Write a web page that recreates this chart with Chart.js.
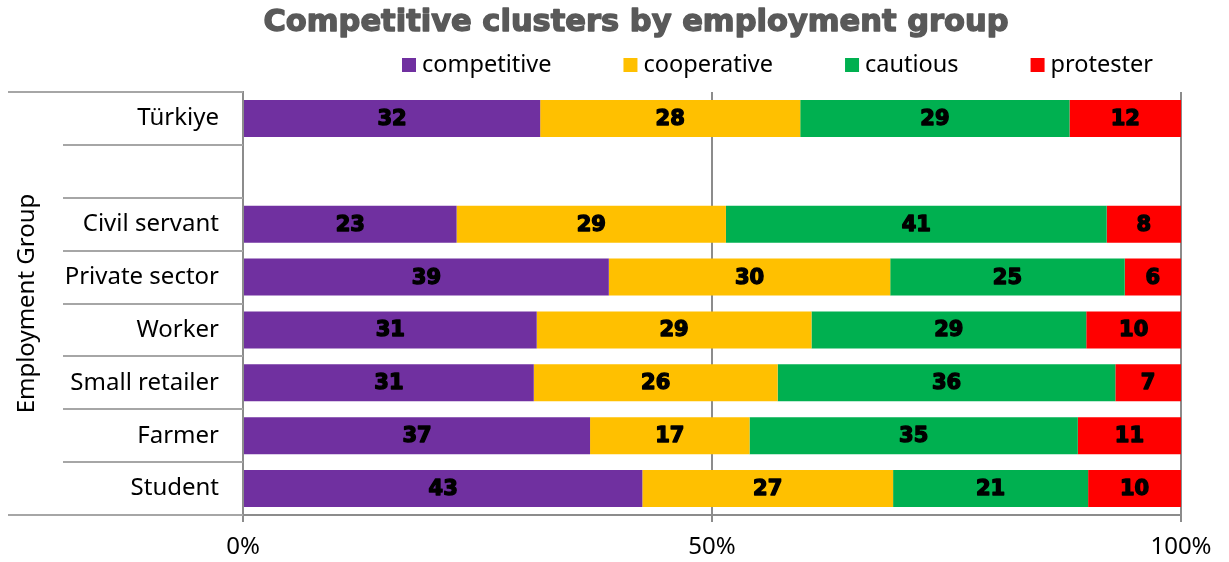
<!DOCTYPE html>
<html>
<head>
<meta charset="utf-8">
<title>Competitive clusters by employment group</title>
<script src="https://cdn.jsdelivr.net/npm/chart.js@4.4.1/dist/chart.umd.min.js"></script>
<style>
  html, body { margin: 0; padding: 0; background: #fff; }
</style>
</head>
<body>
<canvas id="chart-clusters" width="1229" height="562"></canvas>
<script>
// Employment groups, top to bottom (empty row splits the national total from the groups)
const groups = ["Türkiye", "", "Civil servant", "Private sector", "Worker", "Small retailer", "Farmer", "Student"];

// Cluster shares per group (%, rounded as printed)
const competitive = [32, null, 23, 39, 31, 31, 37, 43];
const cooperative = [28, null, 29, 30, 29, 26, 17, 27];
const cautious    = [29, null, 41, 25, 29, 36, 35, 21];
const protester   = [12, null,  8,  6, 10,  7, 11, 10];

const clusterNames  = ["competitive", "cooperative", "cautious", "protester"];
const clusterColors = ["#7030A0", "#FFC000", "#00B050", "#FF0000"];

const xTicks = [0, 50, 100];

const TITLE = "Competitive clusters by employment group";
const LINE_GREY = "#8c8c8c";
const SEP_GREY = "#a6a6a6";

// rounded shares don't always add to 100, so stretch every row to full width
const series = [competitive, cooperative, cautious, protester];
const rowTotals = groups.map((_, i) => series.reduce((s, arr) => s + (arr[i] || 0), 0));
const toShare = arr => arr.map((v, i) => v == null ? null : v / rowTotals[i] * 100);

const datasets = series.map((arr, k) => ({
  label: clusterNames[k],
  raw: arr,
  data: toShare(arr),
  backgroundColor: clusterColors[k],
  borderWidth: 0,
  barPercentage: 0.7,
  categoryPercentage: 1.0
}));

// fill + thin outline in the same colour, gives a heavier weight than plain bold
function heavyText(ctx, text, x, y, color, weight) {
  ctx.fillStyle = color;
  ctx.strokeStyle = color;
  ctx.lineWidth = weight;
  ctx.lineJoin = "round";
  ctx.strokeText(text, x, y);
  ctx.fillText(text, x, y);
}

// title, legend, left-hand row separators and value labels
const decor = {
  id: "clusterDecor",
  afterDraw(chart) {
    const { ctx, chartArea } = chart;
    const yScale = chart.scales.y;

    ctx.save();

    // row separators on the category side
    ctx.strokeStyle = SEP_GREY;
    ctx.lineWidth = 2;
    ctx.beginPath();
    for (let i = 0; i < groups.length - 1; i++) {
      const yb = Math.round((yScale.getPixelForTick(i) + yScale.getPixelForTick(i + 1)) / 2);
      ctx.moveTo(63, yb);
      ctx.lineTo(chartArea.left, yb);
    }
    ctx.moveTo(8, chartArea.top);
    ctx.lineTo(chartArea.left, chartArea.top);
    ctx.moveTo(8, chartArea.bottom);
    ctx.lineTo(chartArea.left, chartArea.bottom);
    ctx.stroke();

    // value labels in the middle of each segment
    ctx.font = "bold 21px 'DejaVu Sans'";
    ctx.textAlign = "center";
    ctx.textBaseline = "middle";
    chart.data.datasets.forEach((ds, di) => {
      chart.getDatasetMeta(di).data.forEach((bar, i) => {
        const v = ds.raw[i];
        if (v == null) return;
        heavyText(ctx, String(v), (bar.x + bar.base) / 2, bar.y + 1, "#000", 1.4);
      });
    });

    // chart title
    ctx.font = "bold 30.5px 'DejaVu Sans'";
    heavyText(ctx, TITLE, 636, 23, "#595959", 1.4);

    // legend row
    ctx.font = "23.5px 'Noto Sans'";
    ctx.textAlign = "left";
    let x = 402;
    clusterNames.forEach((name, k) => {
      ctx.fillStyle = clusterColors[k];
      ctx.fillRect(x, 58, 14, 14);
      ctx.fillStyle = "#000";
      ctx.fillText(name, x + 20, 65);
      x += 20 + ctx.measureText(name).width + 72;
    });

    ctx.restore();
  }
};

new Chart(document.getElementById("chart-clusters"), {
  type: "bar",
  data: { labels: groups, datasets },
  plugins: [decor],
  options: {
    indexAxis: "y",
    responsive: false,
    animation: false,
    layout: { padding: { top: 92, right: 48, bottom: 0, left: 8 } },
    plugins: {
      legend: { display: false },
      title: { display: false },
      tooltip: { enabled: false }
    },
    scales: {
      x: {
        stacked: true,
        min: 0,
        max: 100,
        afterBuildTicks: s => { s.ticks = xTicks.map(v => ({ value: v })); },
        afterFit: s => { s.height = 47; },
        ticks: {
          callback: v => v + "%",
          font: { family: "Noto Sans", size: 24 },
          color: "#000",
          padding: 11,
          maxRotation: 0
        },
        grid: { color: LINE_GREY, lineWidth: 2, tickLength: 7 },
        border: { color: LINE_GREY, width: 2 }
      },
      y: {
        stacked: true,
        afterFit: s => { s.width = 235; },
        ticks: {
          font: { family: "Noto Sans", size: 24 },
          color: "#000",
          padding: 24
        },
        grid: { display: false, drawTicks: false },
        border: { display: true, color: LINE_GREY, width: 2 },
        title: {
          display: true,
          text: "Employment Group",
          font: { family: "Noto Sans", size: 24 },
          color: "#000",
          padding: { top: 5, bottom: 0 }
        }
      }
    }
  }
});
</script>
</body>
</html>
